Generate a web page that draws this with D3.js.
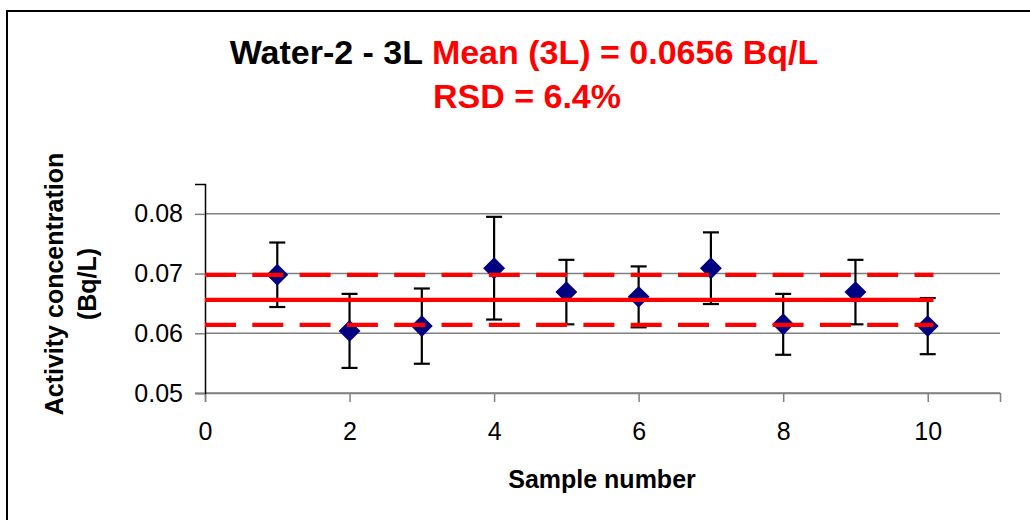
<!DOCTYPE html>
<html>
<head>
<meta charset="utf-8">
<script src="https://cdn.jsdelivr.net/npm/d3@7"></script>
<style>
  html, body { margin: 0; padding: 0; background: #fff; }
  svg { display: block; font-family: "Liberation Sans", Arial, sans-serif; }
</style>
</head>
<body>
<svg id="chart" width="1030" height="520"></svg>
<script>
// Water-2, 3 L aliquots: activity concentration per sample with uncertainty
const samples = [1, 2, 3, 4, 5, 6, 7, 8, 9, 10];
const activity = [0.0698, 0.0604, 0.0612, 0.0709, 0.0669, 0.0661, 0.0709, 0.0615, 0.0669, 0.0612];
const uncertainty = [0.0054, 0.0062, 0.0063, 0.0086, 0.0054, 0.0051, 0.0060, 0.0051, 0.0054, 0.0047];

const meanValue = 0.0656;   // Bq/L
const rsdPercent = 6.4;     // %
const lineExtent = [0, 10.08];

const xTicks = [0, 2, 4, 6, 8, 10];
const yTicks = [0.05, 0.06, 0.07, 0.08];
const yTickLabels = ["0.05", "0.06", "0.07", "0.08"];

const svg = d3.select("#chart");

// outer frame
svg.append("rect")
  .attr("x", 7).attr("y", 11)
  .attr("width", 1040).attr("height", 530)
  .attr("fill", "none").attr("stroke", "#000").attr("stroke-width", 2);

const x = d3.scaleLinear().domain([0, 11]).range([205, 1000]);
const y = d3.scaleLinear().domain([0.05, 0.085]).range([393, 184]);

// horizontal gridlines
svg.append("g")
  .selectAll("line")
  .data(yTicks)
  .join("line")
  .attr("x1", x(0)).attr("x2", x(11))
  .attr("y1", d => y(d)).attr("y2", d => y(d))
  .attr("stroke", "#808080").attr("stroke-width", 1.5);

// x axis
const xAxis = svg.append("g")
  .attr("transform", `translate(0,${y(0.05)})`)
  .call(d3.axisBottom(x).tickValues(xTicks).tickSize(9).tickPadding(20).tickFormat(d3.format("d")));
xAxis.select(".domain").attr("stroke", "#808080").attr("stroke-width", 1.5);
xAxis.selectAll(".tick line").attr("stroke", "#808080").attr("stroke-width", 1.5);
xAxis.selectAll(".tick text")
  .attr("font-size", 25).attr("font-family", "Liberation Sans, Arial, sans-serif").attr("fill", "#000");

// y axis
const yAxis = svg.append("g")
  .attr("transform", `translate(${x(0)},0)`)
  .call(d3.axisLeft(y).tickValues(yTicks).tickSize(10).tickPadding(12)
    .tickFormat((d, i) => yTickLabels[i]));
yAxis.select(".domain").attr("stroke", "#000").attr("stroke-width", 1.5);
yAxis.selectAll(".tick line").attr("stroke", "#808080").attr("stroke-width", 1.5);
yAxis.selectAll(".tick text")
  .attr("font-size", 25).attr("font-family", "Liberation Sans, Arial, sans-serif").attr("fill", "#000");

// error bars
const rows = samples.map((s, i) => ({ s, v: activity[i], u: uncertainty[i] }));
const eb = svg.append("g").attr("stroke", "#000").attr("stroke-width", 2.2);
eb.selectAll("line.stem").data(rows).join("line").attr("class", "stem")
  .attr("x1", d => x(d.s)).attr("x2", d => x(d.s))
  .attr("y1", d => y(d.v + d.u)).attr("y2", d => y(d.v - d.u));
eb.selectAll("line.capTop").data(rows).join("line").attr("class", "capTop")
  .attr("x1", d => x(d.s) - 8).attr("x2", d => x(d.s) + 8)
  .attr("y1", d => y(d.v + d.u)).attr("y2", d => y(d.v + d.u));
eb.selectAll("line.capBot").data(rows).join("line").attr("class", "capBot")
  .attr("x1", d => x(d.s) - 8).attr("x2", d => x(d.s) + 8)
  .attr("y1", d => y(d.v - d.u)).attr("y2", d => y(d.v - d.u));

// diamond markers
const diamond = d3.symbol().type(d3.symbolSquare).size(240);
svg.append("g").selectAll("path").data(rows).join("path")
  .attr("d", diamond)
  .attr("transform", d => `translate(${x(d.s)},${y(d.v)}) rotate(45)`)
  .attr("fill", "#000080");

// mean and ±RSD lines
const band = [
  { v: meanValue * (1 + rsdPercent / 100), dash: "31,16.3" },
  { v: meanValue, dash: null },
  { v: meanValue * (1 - rsdPercent / 100), dash: "31,16.3" }
];
svg.append("g").selectAll("line").data(band).join("line")
  .attr("x1", x(lineExtent[0])).attr("x2", x(lineExtent[1]))
  .attr("y1", d => y(d.v)).attr("y2", d => y(d.v))
  .attr("stroke", "#ff0000").attr("stroke-width", 4.2)
  .attr("stroke-dasharray", d => d.dash);

// title
const title = svg.append("text")
  .attr("x", 524).attr("y", 64)
  .attr("text-anchor", "middle")
  .attr("font-size", 34).attr("font-weight", "bold");
title.append("tspan").attr("fill", "#000").text("Water-2 - 3L ");
title.append("tspan").attr("fill", "#ff0000")
  .text(`Mean (3L) = ${meanValue.toFixed(4)} Bq/L`);
svg.append("text")
  .attr("x", 527).attr("y", 108)
  .attr("text-anchor", "middle")
  .attr("font-size", 34).attr("font-weight", "bold").attr("fill", "#ff0000")
  .text(`RSD = ${rsdPercent.toFixed(1)}%`);

// axis titles
svg.append("text")
  .attr("x", 602).attr("y", 488)
  .attr("text-anchor", "middle")
  .attr("font-size", 25).attr("font-weight", "bold")
  .text("Sample number");

const yTitle = svg.append("text")
  .attr("transform", "translate(0,284) rotate(-90)")
  .attr("text-anchor", "middle")
  .attr("font-size", 25).attr("font-weight", "bold");
yTitle.append("tspan").attr("x", 0).attr("y", 63).text("Activity concentration");
yTitle.append("tspan").attr("x", 0).attr("y", 96).text("(Bq/L)");
</script>
</body>
</html>
